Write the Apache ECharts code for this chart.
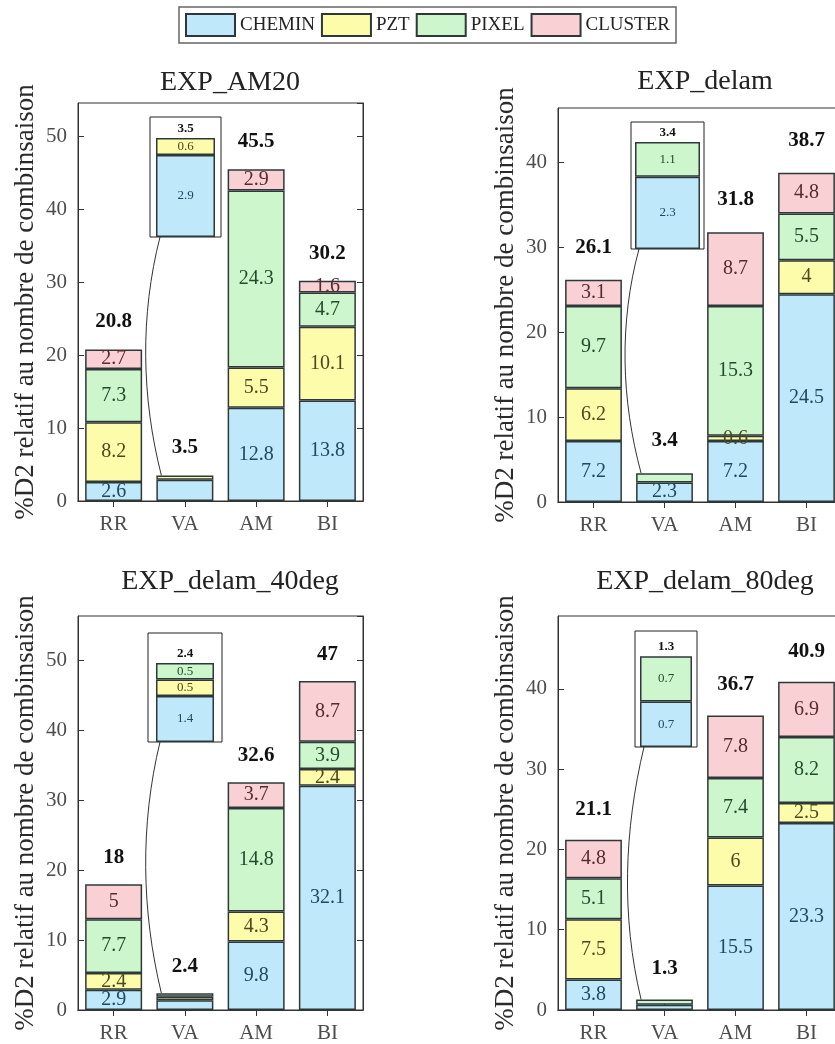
<!DOCTYPE html>
<html><head><meta charset="utf-8">
<script src="https://cdn.jsdelivr.net/npm/echarts@6/dist/echarts.min.js"></script>
<style>html,body{margin:0;padding:0;background:#fff}#c{width:835px;height:1044px}</style>
</head><body><div id="c"></div>
<script>
// ---------- DATA ----------
const categories = ['RR', 'VA', 'AM', 'BI'];
const seriesNames = ['CHEMIN', 'PZT', 'PIXEL', 'CLUSTER'];
const titles = ['EXP_AM20', 'EXP_delam', 'EXP_delam_40deg', 'EXP_delam_80deg'];
const yAxisName = '%D2 relatif au nombre de combinsaison';
// one row per subplot, columns = RR, VA, AM, BI
const chemin  = [[2.6, 2.9, 12.8, 13.8], [7.2, 2.3, 7.2, 24.5], [2.9, 1.4, 9.8, 32.1], [3.8, 0.65, 15.5, 23.3]];
const pzt     = [[8.2, 0.6, 5.5, 10.1], [6.2, 0, 0.6, 4], [2.4, 0.5, 4.3, 2.4], [7.5, 0, 6, 2.5]];
const pixel   = [[7.3, 0, 24.3, 4.7], [9.7, 1.1, 15.3, 5.5], [7.7, 0.5, 14.8, 3.9], [5.1, 0.65, 7.4, 8.2]];
const cluster = [[2.7, 0, 2.9, 1.6], [3.1, 0, 8.7, 4.8], [5, 0, 3.7, 8.7], [4.8, 0, 7.8, 6.9]];
const totals  = [[20.8, 3.5, 45.5, 30.2], [26.1, 3.4, 31.8, 38.7], [18, 2.4, 32.6, 47], [21.1, 1.3, 36.7, 40.9]];
const yMax = [54.6, 46.44, 56.4, 49.08];
const yInterval = 10;
const insetMax = [4.24, 4.04, 3.31, 1.66];
const vaMainLabelShown = [[], [0], [], []];

// ---------- STYLE / LAYOUT ----------
const FONT = '"Liberation Serif", "Times New Roman", serif';
const fills = ['#bfe9fb', '#fdfcab', '#cdf6cd', '#f9d0d3'];
const labelColors = ['#23475f', '#4c4a1c', '#1f4d2c', '#5a2b2d'];
const edge = '#2e3838';
const mainGrids = [
  {left: 78, top: 103, width: 285, height: 398},
  {left: 558, top: 108, width: 284, height: 394},
  {left: 78, top: 616, width: 285, height: 394},
  {left: 558, top: 616, width: 284, height: 394}
];
const insetGrids = [
  {left: 150, top: 117, width: 71, height: 120},
  {left: 631, top: 122, width: 73, height: 127},
  {left: 148, top: 633, width: 74, height: 109},
  {left: 635, top: 631, width: 62, height: 116}
];
const insetBarW = [59, 65, 58, 52];
const titlePos = [[225, 64], [700, 63], [225, 563], [700, 563]];
const totalOffsetUnits = 3.8;

const allVals = [chemin, pzt, pixel, cluster];
const fmt = v => String(parseFloat(Number(v).toFixed(1)));

const grid = [], xAxis = [], yAxis = [], series = [], title = [];
mainGrids.forEach(g => grid.push(Object.assign({show: true, borderColor: '#333', borderWidth: 1, backgroundColor: '#fff', containLabel: false, outerBoundsMode: 'none'}, g)));
insetGrids.forEach(g => grid.push(Object.assign({show: true, borderColor: '#222', borderWidth: 1, backgroundColor: 'transparent', containLabel: false, outerBoundsMode: 'none', z: 5}, g)));

const axisLineStyle = {show: true, lineStyle: {color: '#333', width: 1}};
// main bottom x axes 0-3
for (let p = 0; p < 4; p++) xAxis.push({type: 'category', gridIndex: p, data: categories, position: 'bottom',
  axisLine: axisLineStyle, axisTick: {show: true, inside: true, alignWithLabel: true, length: 6, lineStyle: {color: '#333'}},
  axisLabel: {fontFamily: FONT, fontSize: 21, color: '#4d4d4d', margin: 13}});
// main top x axes 4-7
for (let p = 0; p < 4; p++) xAxis.push({type: 'category', gridIndex: p, data: categories, position: 'top',
  axisLine: axisLineStyle, axisTick: {show: true, inside: true, alignWithLabel: true, length: 6, lineStyle: {color: '#333'}},
  axisLabel: {show: false}});
// inset x axes 8-11
for (let p = 0; p < 4; p++) xAxis.push({type: 'category', gridIndex: 4 + p, data: [categories[1]], show: false});

for (let p = 0; p < 4; p++) yAxis.push({type: 'value', gridIndex: p, min: 0, max: yMax[p], interval: yInterval, position: 'left',
  name: yAxisName, nameLocation: 'middle', nameGap: 39,
  nameTextStyle: {fontFamily: FONT, fontSize: 27, color: '#2a2a2a'},
  axisLine: axisLineStyle, axisTick: {show: true, inside: true, length: 6, lineStyle: {color: '#333'}},
  splitLine: {show: false},
  axisLabel: {fontFamily: FONT, fontSize: 21, color: '#4d4d4d', margin: 11, showMaxLabel: false}});
for (let p = 0; p < 4; p++) yAxis.push({type: 'value', gridIndex: p, min: 0, max: yMax[p], interval: yInterval, position: 'right',
  axisLine: axisLineStyle, axisTick: {show: true, inside: true, length: 6, lineStyle: {color: '#333'}},
  splitLine: {show: false}, axisLabel: {show: false}});
for (let p = 0; p < 4; p++) yAxis.push({type: 'value', gridIndex: 4 + p, min: 0, max: insetMax[p], show: false, splitLine: {show: false}});

for (let p = 0; p < 4; p++) {
  // main stacked bars
  for (let s = 0; s < 4; s++) {
    series.push({
      name: seriesNames[s], type: 'bar', xAxisIndex: p, yAxisIndex: p, stack: 'main' + p, barWidth: '80%',
      itemStyle: {color: fills[s], borderColor: edge, borderWidth: 1.5},
      label: {show: true, position: 'inside', fontFamily: FONT, fontSize: 20, color: labelColors[s], formatter: d => fmt(d.value)},
      data: categories.map((c, i) => {
        const v = allVals[s][p][i];
        if (!v) return '-';
        if (i === 1 && vaMainLabelShown[p].indexOf(s) < 0) return {value: v, label: {show: false}};
        return v;
      })
    });
  }
  const pxPerUnit = mainGrids[p].height / yMax[p];
  series.push({
    name: 'total', type: 'bar', xAxisIndex: p, yAxisIndex: p, stack: 'main' + p, barWidth: '80%', silent: true,
    itemStyle: {color: 'rgba(0,0,0,0)', borderWidth: 0},
    label: {show: true, position: 'top', distance: totalOffsetUnits * pxPerUnit - 10.5, fontFamily: FONT, fontSize: 21, fontWeight: 'bold', color: '#111',
      formatter: d => fmt(totals[p][d.dataIndex])},
    data: categories.map(() => 0)
  });
  // inset (zoom of VA)
  for (let s = 0; s < 4; s++) {
    const v = allVals[s][p][1];
    series.push({
      name: seriesNames[s], type: 'bar', xAxisIndex: 8 + p, yAxisIndex: 8 + p, stack: 'inset' + p, barWidth: insetBarW[p], z: 6,
      itemStyle: {color: fills[s], borderColor: edge, borderWidth: 1.5},
      label: {show: true, position: 'inside', fontFamily: FONT, fontSize: 13, color: labelColors[s], formatter: d => fmt(d.value)},
      data: [v ? v : '-']
    });
  }
  series.push({
    name: 'total', type: 'bar', xAxisIndex: 8 + p, yAxisIndex: 8 + p, stack: 'inset' + p, barWidth: insetBarW[p], silent: true, z: 6,
    itemStyle: {color: 'rgba(0,0,0,0)', borderWidth: 0},
    label: {show: true, position: 'top', distance: 3, fontFamily: FONT, fontSize: 13, fontWeight: 'bold', color: '#111',
      formatter: () => fmt(totals[p][1])},
    data: [0]
  });
  title.push({text: titles[p], left: titlePos[p][0], top: titlePos[p][1], textAlign: 'center',
    textStyle: {fontFamily: FONT, fontSize: 28, fontWeight: 'normal', color: '#222'}});
}

const chart = echarts.init(document.getElementById('c'), null, {renderer: 'canvas'});
chart.setOption({
  animation: false,
  backgroundColor: '#fff',
  title: title,
  legend: {data: seriesNames, left: 179, top: 7, orient: 'horizontal', icon: 'rect', itemWidth: 49, itemHeight: 22, itemGap: 6,
    padding: [6, 6, 6, 6], borderColor: '#666', borderWidth: 1.5, backgroundColor: '#fff', selectedMode: false,
    textStyle: {fontFamily: FONT, fontSize: 19, color: '#222'}},
  grid: grid, xAxis: xAxis, yAxis: yAxis, series: series
});

// connector curves from inset to the real VA bar
const graphics = [];
for (let p = 0; p < 4; p++) {
  const vaTop = allVals.reduce((a, arr) => a + arr[p][1], 0);
  const band = mainGrids[p].width / categories.length;
  const endPt = chart.convertToPixel({xAxisIndex: p, yAxisIndex: p}, [1, vaTop]);
  const x2 = endPt[0] - 0.4 * band + 5, y2 = endPt[1];
  const startPt = chart.convertToPixel({xAxisIndex: 8 + p, yAxisIndex: 8 + p}, [0, 0]);
  const x1 = startPt[0] - insetBarW[p] / 2 + 4, y1 = insetGrids[p].top + insetGrids[p].height;
  const dy = y2 - y1;
  graphics.push({type: 'bezierCurve', z: 10, silent: true,
    shape: {x1: x1, y1: y1, x2: x2, y2: y2, cpx1: x1 - 20, cpy1: y1 + dy * 0.33, cpx2: x2 - 20, cpy2: y1 + dy * 0.67},
    style: {stroke: '#333', lineWidth: 1, fill: null}});
}
chart.setOption({graphic: graphics});
</script></body></html>
